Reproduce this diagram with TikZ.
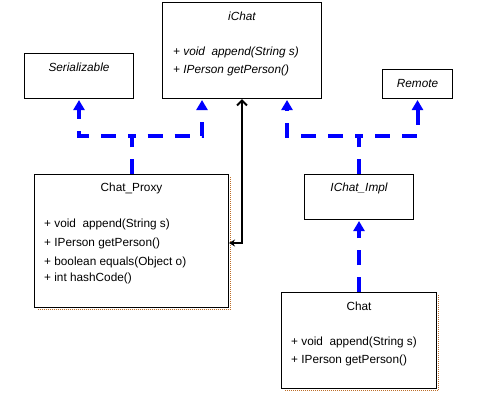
\documentclass[tikz,border=0pt]{standalone}
\usepackage{fontspec}
\setmainfont{Liberation Sans}
\usepackage{xcolor}
\usetikzlibrary{arrows.meta, positioning, calc}

\definecolor{umlblue}{RGB}{0,0,255}
\definecolor{shadowbrown}{RGB}{190,110,40}

\begin{document}
\begin{tikzpicture}[
    x=1pt, y=-1pt,
    font=\fontsize{11.8}{19}\selectfont,
    % Define specific node styles
    class_box/.style={rectangle, draw=black, line width=1pt, inner sep=0pt, anchor=north west},
    title_node/.style={inner sep=0pt, anchor=center},
    method_node/.style={inner sep=0pt, anchor=base west, align=left},
    realize/.style={draw=umlblue, line width=4pt, dash pattern=on 15pt off 12pt, -{Triangle[width=11pt, length=10pt, sep=1pt]}},
    assoc/.style={draw=black, line width=2pt, {Stealth[length=6pt, width=7pt]}-{Straight Barb[length=5pt, width=10pt]}},
    shadow_line/.style={draw=shadowbrown, line width=1.5pt, dash pattern=on 1pt off 1pt},
]
\useasboundingbox (0,0) rectangle (489,400);

% Class boxes
\node[class_box, minimum width=159pt, minimum height=96pt] (ichat) at (162,2) {};
\node[class_box, minimum width=109pt, minimum height=45pt] (serial) at (24,53) {};
\node[class_box, minimum width=70pt, minimum height=29pt] (remote) at (382,69) {};
\node[class_box, minimum width=194pt, minimum height=133pt] (proxy) at (34,174) {};
\node[class_box, minimum width=109pt, minimum height=45pt] (impl) at (304,174) {};
\node[class_box, minimum width=155pt, minimum height=96pt] (chat) at (281,292) {};

% Shadows
\draw[shadow_line] ([shift={(1.5,3)}]proxy.north east) -- ([shift={(1.5,1.5)}]proxy.south east) -- ([shift={(3,1.5)}]proxy.south west);
\draw[shadow_line] ([shift={(1.5,3)}]chat.north east) -- ([shift={(1.5,1.5)}]chat.south east) -- ([shift={(3,1.5)}]chat.south west);

% Titles
\node[title_node] (ichat_t) at ([yshift=-14]ichat.north) {\itshape iChat};
\node[title_node] (serial_t) at ([yshift=-14]serial.north) {\itshape Serializable};
\node[title_node] (remote_t) at ([yshift=-14]remote.north) {\itshape Remote};
\node[title_node] (proxy_t) at ([yshift=-14]proxy.north) {Chat\_Proxy};
\node[title_node] (impl_t) at ([yshift=-14]impl.north) {\itshape IChat\_Impl};
\node[title_node] (chat_t) at ([yshift=-14]chat.north) {Chat};

% Methods (anchored at the baseline of the last line)
\node[method_node] (ichat_m) at ([shift={(11,71)}]ichat.north west) {\itshape + void\ \ append(String s)\\[-1pt] \itshape + IPerson getPerson()};
\node[method_node] (proxy_m) at ([shift={(10,107)}]proxy.north west) {+ void\ \ append(String s)\\ + IPerson getPerson()\\ + boolean equals(Object o)\\[-3pt] + int hashCode()};
\node[method_node] (chat_m) at ([shift={(10,71)}]chat.north west) {+ void\ \ append(String s)\\[-1pt] + IPerson getPerson()};

% Connections
\draw[realize] (proxy.north) -- ++(0,-38) -| (serial.south);
\draw[realize] (proxy.north) -- ++(0,-38) -| ([xshift=40]ichat.south west);
\draw[realize] (impl.north) -- ++(0,-38) -| ([xshift=-35]ichat.south east);
\draw[realize] (impl.north) -- ++(0,-38) -| (remote.south);
\draw[realize] (chat.north) -- (impl.south);

\draw[assoc] ([yshift=-2]proxy.east) -| (ichat.south);

\end{tikzpicture}
\end{document}
